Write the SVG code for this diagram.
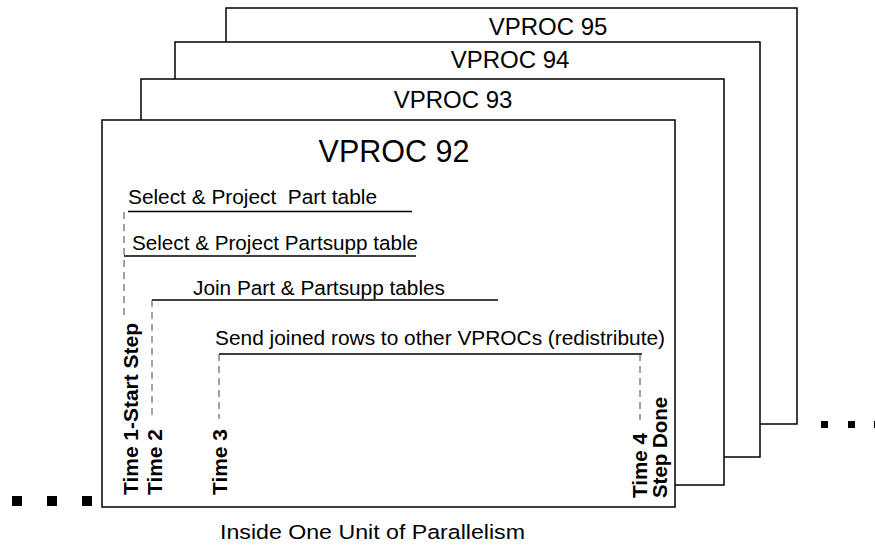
<svg xmlns="http://www.w3.org/2000/svg" width="875" height="546" viewBox="0 0 875 546">
<style>
.box{fill:#fff;stroke:#000;stroke-width:1.5}
.ttl{font-family:"Liberation Sans",Arial,sans-serif;fill:#000;text-anchor:middle}
.lbl{font-family:"Liberation Sans",Arial,sans-serif;font-size:20.5px;fill:#000;white-space:pre}
.tm{font-family:"Liberation Sans",Arial,sans-serif;font-size:20.5px;font-weight:bold;fill:#000}
.ln{stroke:#000;stroke-width:1.4;fill:none}
.dash{stroke:#444;stroke-width:1;stroke-dasharray:7,5;fill:none}
.dot{fill:#000}
</style>
<g id="vproc95">
<rect class="box" x="226" y="8" width="571" height="416"/>
<text class="ttl" x="548" y="35" font-size="24">VPROC 95</text>
</g>
<g id="vproc94">
<rect class="box" x="175" y="42" width="585" height="415"/>
<text class="ttl" x="510" y="68" font-size="24">VPROC 94</text>
</g>
<g id="vproc93">
<rect class="box" x="141" y="79" width="583" height="406"/>
<text class="ttl" x="453" y="108" font-size="24">VPROC 93</text>
</g>
<g id="vproc92">
<rect class="box" x="102" y="120" width="573" height="387"/>
<text class="ttl" x="394" y="162" font-size="30.5">VPROC 92</text>
<text class="lbl" x="128" y="204" textLength="249" lengthAdjust="spacingAndGlyphs" xml:space="preserve">Select &amp; Project  Part table</text>
<text class="lbl" x="132" y="250" textLength="286" lengthAdjust="spacingAndGlyphs">Select &amp; Project Partsupp table</text>
<text class="lbl" x="193" y="295" textLength="252" lengthAdjust="spacingAndGlyphs">Join Part &amp; Partsupp tables</text>
<text class="lbl" x="215" y="345" textLength="450" lengthAdjust="spacingAndGlyphs">Send joined rows to other VPROCs (redistribute)</text>
<text class="tm" transform="translate(138,495) rotate(-90)" textLength="172" lengthAdjust="spacingAndGlyphs">Time 1-Start Step</text>
<text class="tm" transform="translate(162,495) rotate(-90)" textLength="66" lengthAdjust="spacingAndGlyphs">Time 2</text>
<text class="tm" transform="translate(227,495) rotate(-90)" textLength="66" lengthAdjust="spacingAndGlyphs">Time 3</text>
<text class="tm" transform="translate(647,498) rotate(-90)" textLength="65" lengthAdjust="spacingAndGlyphs">Time 4</text>
<text class="tm" transform="translate(667,498) rotate(-90)" textLength="101" lengthAdjust="spacingAndGlyphs">Step Done</text>
</g>
<g id="connectors">
<line class="ln" x1="128" y1="211.5" x2="412" y2="211.5"/>
<line class="ln" x1="124" y1="256" x2="416" y2="256"/>
<line class="ln" x1="152" y1="300" x2="498" y2="300"/>
<line class="ln" x1="219" y1="354" x2="642" y2="354"/>
<line class="dash" x1="124" y1="212" x2="124" y2="316"/>
<line class="dash" x1="152" y1="300" x2="152" y2="419"/>
<line class="dash" x1="219" y1="354" x2="219" y2="419"/>
<line class="dash" x1="640" y1="354" x2="640" y2="420"/>
</g>
<g id="dots">
<rect class="dot" x="12" y="496" width="10" height="10"/>
<rect class="dot" x="47" y="496" width="10" height="10"/>
<rect class="dot" x="82" y="496" width="10" height="10"/>
<rect class="dot" x="821" y="421" width="7" height="7"/>
<rect class="dot" x="848" y="421" width="7" height="7"/>
<rect class="dot" x="874" y="421" width="7" height="7"/>
</g>
<text class="lbl" x="220" y="539" font-size="21" textLength="305" lengthAdjust="spacingAndGlyphs">Inside One Unit of Parallelism</text>
</svg>
